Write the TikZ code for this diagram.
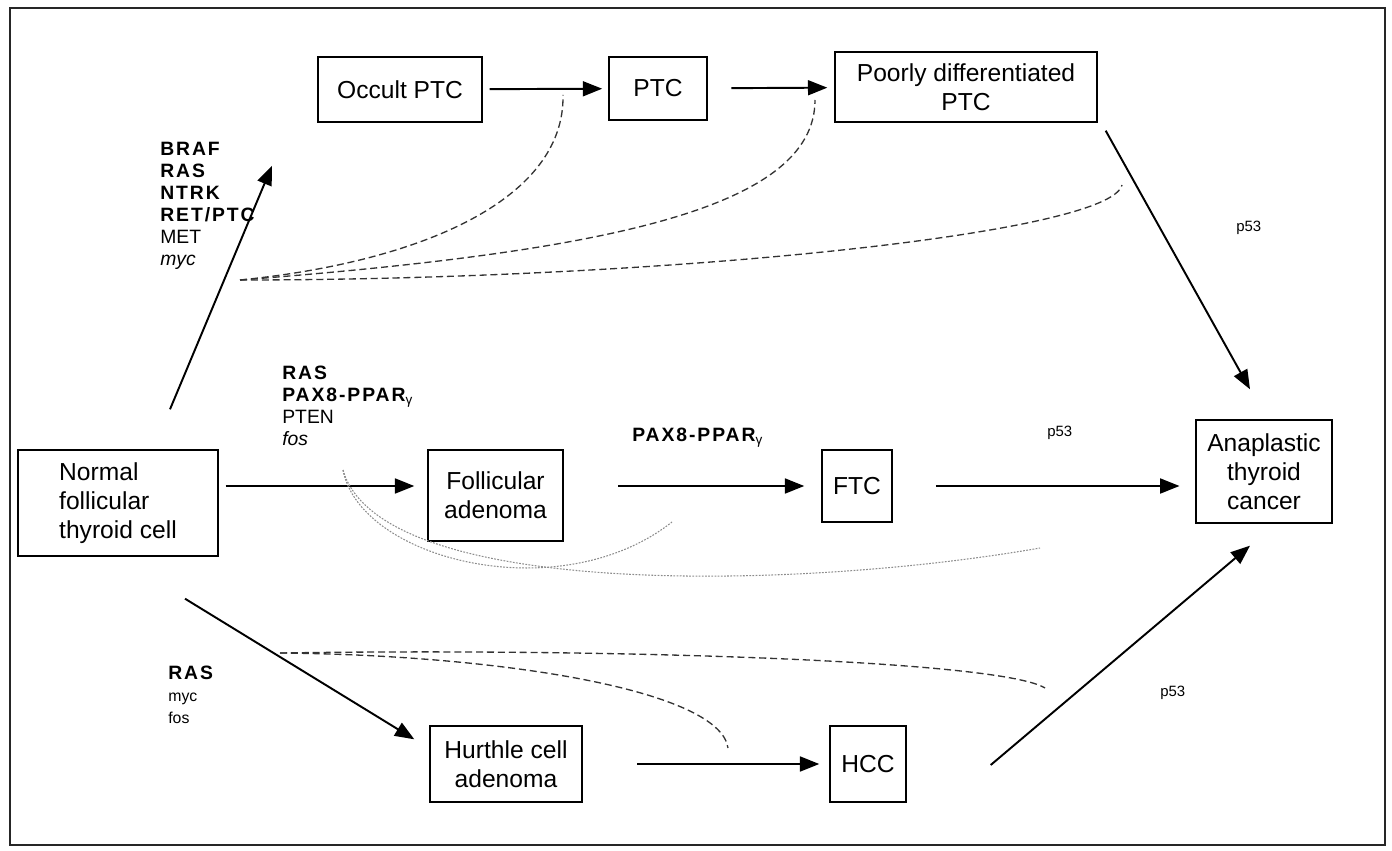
\documentclass[tikz,border=0pt]{standalone}
\usepackage{fontspec}
\setmainfont{Liberation Sans}
\newfontfamily\genefont[LetterSpace=10]{Liberation Sans}
\newcommand\gb[1]{{\genefont\bfseries #1}}
\usetikzlibrary{arrows.meta}
\begin{document}
\begin{tikzpicture}[x=0.02cm,y=-0.02cm,
    box/.style={draw,line width=0.8pt,align=center,inner sep=0pt,font=\fontsize{14}{16.5}\selectfont},
    arr/.style={-{Triangle[length=11pt,width=8.5pt]},line width=1.1pt},
    link/.style={line width=0.75pt,dash pattern=on 4pt off 2.2pt,black!80},
    faint/.style={line width=0.6pt,dash pattern=on 1pt off 0.8pt,black!45},
    genes/.style={anchor=north west,align=left,inner sep=0pt,font=\fontsize{11}{12.5}\selectfont},
    pfs/.style={anchor=west,inner sep=0pt,font=\fontsize{8.5}{10}\selectfont}]
\useasboundingbox (0,0) rectangle (1392,851);
\draw[line width=0.7pt,black!85] (10,8) rectangle (1385,845);
\node[box,minimum width=3.28cm,minimum height=1.3cm] (occ) at (400,89.5) {Occult PTC};
\node[box,minimum width=1.96cm,minimum height=1.26cm] (ptc) at (658,88.5) {PTC};
\node[box,minimum width=5.24cm,minimum height=1.4cm] (pdp) at (966,87) {Poorly differentiated\\PTC};
\node[box,minimum width=4cm,minimum height=2.12cm,align=left] (nft) at (118,503) {Normal\\follicular\\thyroid cell};
\node[box,minimum width=2.7cm,minimum height=1.82cm] (fa) at (495.5,495.5) {Follicular\\adenoma};
\node[box,minimum width=1.4cm,minimum height=1.44cm] (ftc) at (857,486) {FTC};
\node[box,minimum width=2.72cm,minimum height=2.06cm] (atc) at (1264,471.5) {Anaplastic\\thyroid\\cancer};
\node[box,minimum width=3.04cm,minimum height=1.52cm] (hca) at (506,764) {Hurthle cell\\adenoma};
\node[box,minimum width=1.52cm,minimum height=1.52cm] (hcc) at (868,764) {HCC};
\node[genes] (ptcgenes) at (160,142) {\gb{BRAF}\\\gb{RAS}\\\gb{NTRK}\\\gb{RET/PTC}\\MET\\\itshape myc};
\node[genes] (fagenes) at (282,366) {\gb{RAS}\\\gb{PAX8-PPAR\textsubscript{\mdseries γ}}\\PTEN\\\itshape fos};
\node[genes] (ftcgenes) at (632,428) {\gb{PAX8-PPAR\textsubscript{\mdseries γ}}};
\node[genes] (hcagenes) at (168,666) {\gb{RAS}\\\fontsize{9}{12}\selectfont myc\\\fontsize{9}{12}\selectfont fos};
\node[pfs] (p53a) at (1236,228) {p53};
\node[pfs] (p53b) at (1047,433) {p53};
\node[pfs] (p53c) at (1160,693) {p53};
\path[arr]
    (occ) edge[shorten <=4pt,shorten >=3.5pt] (ptc)
    (ptc) edge[shorten <=13.5pt,shorten >=4pt] (pdp)
    (nft.east |- ftc) edge[shorten <=4pt,shorten >=7.4pt] (fa.west |- ftc)
    (fa.east |- ftc) edge[shorten <=31pt,shorten >=9.7pt] (ftc)
    (ftc) edge[shorten <=24.5pt,shorten >=9pt] (atc.west |- ftc)
    (hca) edge[shorten <=31pt,shorten >=5.7pt] (hcc)
    ([shift={(52,-40)}]nft.north) edge ([shift={(-128,43)}]occ.south)
    ([shift={(8,8)}]pdp.south east) edge ([shift={(-14,-30)}]atc.north)
    ([shift={(67,42)}]nft.south) edge ([shift={(-15,14)}]hca.north west)
    ([shift={(84,1)}]hcc.east) edge ([shift={(-14,22)}]atc.south);
\coordinate (ptcsrc) at (240,280);
\coordinate (fasrc) at (343,470);
\coordinate (hcasrc) at (280,653);
\draw[link] (ptcsrc) .. controls (420,262) and (565,200) .. (563,95);
\draw[link] (ptcsrc) .. controls (600,252) and (815,210) .. (815,100);
\draw[link] (ptcsrc) .. controls (650,280) and (1110,235) .. (1122,185);
\draw[faint] (fasrc) .. controls (360,560) and (560,610) .. (672,522);
\draw[faint] (fasrc) .. controls (380,600) and (800,590) .. (1040,548);
\draw[link] (hcasrc) .. controls (600,648) and (1000,660) .. (1045,688);
\draw[link] (hcasrc) .. controls (500,655) and (720,690) .. (728,748);
\end{tikzpicture}
\end{document}
